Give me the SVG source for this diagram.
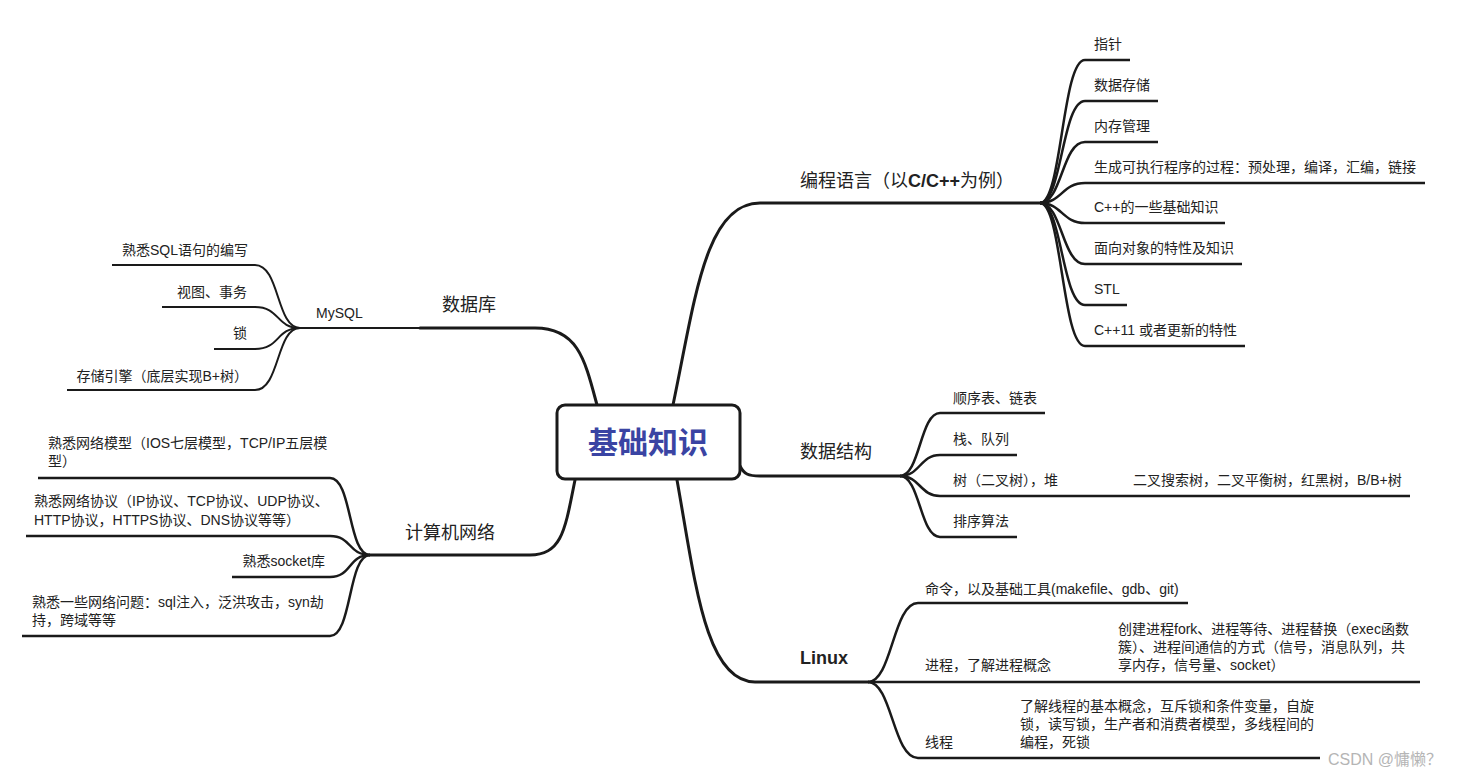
<svg xmlns="http://www.w3.org/2000/svg" width="1469" height="777" viewBox="0 0 1469 777">
<style>
text{font-family:"Liberation Sans","Noto Sans CJK SC",sans-serif;fill:#222}
.s{font-size:14px}
.b{font-size:18px}
.m{fill:none;stroke:#1a1a1a;stroke-width:3;stroke-linecap:round}
.c{fill:none;stroke:#1a1a1a;stroke-width:2.5}
.t{fill:none;stroke:#1a1a1a;stroke-width:2}
</style>
<rect width="1469" height="777" fill="#fff"/>
<g id="connectors">
<path class="m" d="M673,405 C695,300 705,203 760,203 L1040,203"/>
<path class="m" d="M597,405 C585,360 578,328 535,328 L420,328"/>
<path class="t" d="M420,328 L300,328"/>
<path class="m" d="M575,480 C565,530 562,555 530,555 L370,555"/>
<path class="m" d="M677,480 C695,580 705,682 755,682 L868,682"/>
<path class="m" d="M740,466 C744,474 748,476 760,476 L900,476"/>
<path class="c" d="M1040,203 C1062,203 1062,60 1085,60 L1130,60"/>
<path class="c" d="M1040,203 C1062,203 1062,101 1085,101 L1158,101"/>
<path class="c" d="M1040,203 C1062,203 1062,142 1085,142 L1158,142"/>
<path class="c" d="M1040,203 C1062,203 1062,183 1085,183 L1425,183"/>
<path class="c" d="M1040,203 C1062,203 1062,223 1085,223 L1225,223"/>
<path class="c" d="M1040,203 C1062,203 1062,264 1085,264 L1242,264"/>
<path class="c" d="M1040,203 C1062,203 1062,305 1085,305 L1127,305"/>
<path class="c" d="M1040,203 C1062,203 1062,346 1085,346 L1245,346"/>
<path class="t" d="M300,328 C276,328 280,265 255,265 L112,265"/>
<path class="t" d="M300,328 C276,328 280,307 255,307 L162,307"/>
<path class="t" d="M300,328 C276,328 280,349 255,349 L214,349"/>
<path class="t" d="M300,328 C276,328 280,390 255,390 L67,390"/>
<path class="c" d="M370,555 C348,555 352,478 330,478 L38,478"/>
<path class="c" d="M370,555 C348,555 352,536 330,536 L26,536"/>
<path class="c" d="M370,555 C348,555 352,577 330,577 L232,577"/>
<path class="c" d="M370,555 C348,555 352,636 330,636 L22,636"/>
<path class="c" d="M900,476 C920,476 920,413 940,413 L1045,413"/>
<path class="c" d="M900,476 C920,476 920,455 940,455 L1017,455"/>
<path class="c" d="M900,476 C920,476 920,496 940,496 L1410,496"/>
<path class="c" d="M900,476 C920,476 920,537 940,537 L1017,537"/>
<path class="c" d="M868,682 C892,682 893,603 918,603 L1188,603"/>
<path class="c" d="M868,682 L1420,682"/>
<path class="c" d="M868,682 C892,682 893,758 918,758 L1320,758"/>
</g>
<g id="root">
<rect x="557" y="405" width="183" height="74" rx="8" fill="#fff" stroke="#1a1a1a" stroke-width="3"/>
<text x="648" y="453" text-anchor="middle" style="font-size:30px;font-weight:bold;fill:#3a44a3">基础知识</text>
</g>
<g id="n-lang"><text class="b" x="800" y="187">编程语言（以<tspan font-weight="bold">C/C++</tspan>为例）</text></g>
<g id="n-lang-1"><text class="s" x="1094" y="49">指针</text></g>
<g id="n-lang-2"><text class="s" x="1094" y="90">数据存储</text></g>
<g id="n-lang-3"><text class="s" x="1094" y="131">内存管理</text></g>
<g id="n-lang-4"><text class="s" x="1094" y="172">生成可执行程序的过程：预处理，编译，汇编，链接</text></g>
<g id="n-lang-5"><text class="s" x="1094" y="212">C++的一些基础知识</text></g>
<g id="n-lang-6"><text class="s" x="1094" y="253">面向对象的特性及知识</text></g>
<g id="n-lang-7"><text class="s" x="1094" y="294">STL</text></g>
<g id="n-lang-8"><text class="s" x="1094" y="335">C++11 或者更新的特性</text></g>
<g id="n-db"><text class="b" x="442" y="311">数据库</text></g>
<g id="n-mysql"><text class="s" x="316" y="318">MySQL</text></g>
<g id="n-mysql-1"><text class="s" x="248" y="255" text-anchor="end">熟悉SQL语句的编写</text></g>
<g id="n-mysql-2"><text class="s" x="247" y="297" text-anchor="end">视图、事务</text></g>
<g id="n-mysql-3"><text class="s" x="247" y="338" text-anchor="end">锁</text></g>
<g id="n-mysql-4"><text class="s" x="248" y="381" text-anchor="end">存储引擎（底层实现B+树）</text></g>
<g id="n-net"><text class="b" x="405" y="539">计算机网络</text></g>
<g id="n-net-1"><text class="s" x="48" y="448">熟悉网络模型（IOS七层模型，TCP/IP五层模</text><text class="s" x="48" y="466">型）</text></g>
<g id="n-net-2"><text class="s" x="34" y="506">熟悉网络协议（IP协议、TCP协议、UDP协议、</text><text class="s" x="34" y="525">HTTP协议，HTTPS协议、DNS协议等等）</text></g>
<g id="n-net-3"><text class="s" x="325" y="566" text-anchor="end">熟悉socket库</text></g>
<g id="n-net-4"><text class="s" x="32" y="607">熟悉一些网络问题：sql注入，泛洪攻击，syn劫</text><text class="s" x="32" y="625">持，跨域等等</text></g>
<g id="n-ds"><text class="b" x="800" y="458">数据结构</text></g>
<g id="n-ds-1"><text class="s" x="953" y="403">顺序表、链表</text></g>
<g id="n-ds-2"><text class="s" x="953" y="444">栈、队列</text></g>
<g id="n-ds-3"><text class="s" x="953" y="485">树（二叉树），堆</text><text class="s" x="1133" y="485">二叉搜索树，二叉平衡树，红黑树，B/B+树</text></g>
<g id="n-ds-4"><text class="s" x="953" y="526">排序算法</text></g>
<g id="n-linux"><text x="800" y="664" style="font-size:18px;font-weight:bold">Linux</text></g>
<g id="n-linux-1"><text class="s" x="925" y="594">命令，以及基础工具(makefile、gdb、git)</text></g>
<g id="n-linux-2"><text class="s" x="925" y="670">进程，了解进程概念</text><text class="s" x="1118" y="634">创建进程fork、进程等待、进程替换（exec函数</text><text class="s" x="1118" y="652">簇）、进程间通信的方式（信号，消息队列，共</text><text class="s" x="1118" y="670">享内存，信号量、socket）</text></g>
<g id="n-linux-3"><text class="s" x="925" y="747">线程</text><text class="s" x="1020" y="711">了解线程的基本概念，互斥锁和条件变量，自旋</text><text class="s" x="1020" y="729">锁，读写锁，生产者和消费者模型，多线程间的</text><text class="s" x="1020" y="747">编程，死锁</text></g>
<text x="1328" y="765" style="font-size:16px;fill:#b5b5b5">CSDN @慵懒？</text>
</svg>
